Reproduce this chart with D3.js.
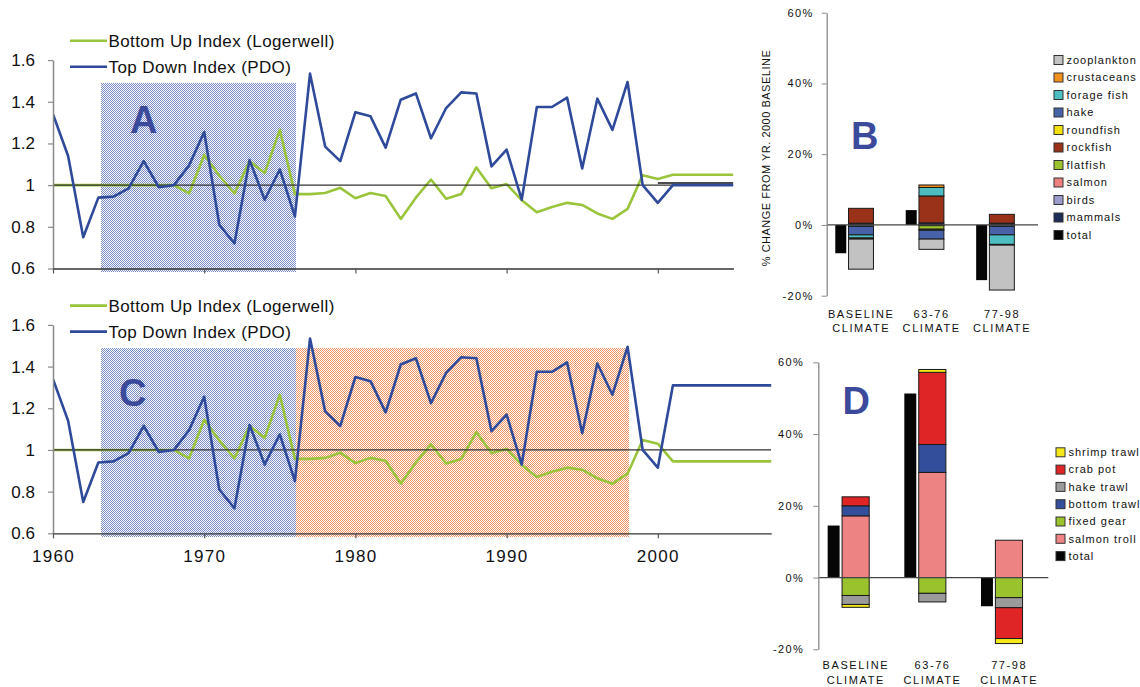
<!DOCTYPE html>
<html>
<head>
<meta charset="utf-8">
<script src="https://cdn.jsdelivr.net/npm/d3@7"></script>
<style>
  body { margin: 0; background: #fff; }
  svg { display: block; font-family: "Liberation Sans", Arial, Helvetica, sans-serif; }
</style>
</head>
<body>
<svg id="chart" width="1140" height="687"></svg>
<script>
// ---------------- Index series, 1960-2000 ----------------
const years = [1960,1961,1962,1963,1964,1965,1966,1967,1968,1969,
               1970,1971,1972,1973,1974,1975,1976,1977,1978,1979,
               1980,1981,1982,1983,1984,1985,1986,1987,1988,1989,
               1990,1991,1992,1993,1994,1995,1996,1997,1998,1999,2000];

const topDownPDO = [1.34,1.14,0.75,0.94,0.945,0.985,1.115,0.99,1.00,1.095,
                    1.255,0.81,0.72,1.12,0.93,1.075,0.85,1.535,1.185,1.115,
                    1.35,1.33,1.18,1.41,1.44,1.225,1.37,1.445,1.44,1.09,
                    1.17,0.93,1.375,1.375,1.42,1.08,1.415,1.265,1.495,1.00,0.915];

const bottomUpLogerwell = [1.00,1.00,1.00,1.00,1.00,1.00,1.00,1.00,1.00,0.96,
                           1.145,1.045,0.96,1.115,1.058,1.265,0.957,0.957,0.962,0.987,
                           0.937,0.962,0.948,0.838,0.94,1.027,0.935,0.957,1.085,0.985,
                           1.005,0.928,0.87,0.895,0.915,0.905,0.864,0.838,0.886,1.048,1.03];

// Projection beyond 2000, scenario A (baseline climate held)
const tailYearsA = [2001,2002,2003,2004,2005];
const topDownTailA = [1.0,1.0,1.0,1.0,1.0];
const bottomUpTailA = [1.05,1.05,1.05,1.05,1.05];
const shiftedBaselineYearsA = [2000,2005];
const shiftedBaselineA = [1.01,1.01];

// Projection beyond 2000, scenario C (1977-98 climate repeated)
const tailYearsC = [2001,2002,2003,2004,2005,2006,2007,2008];
const topDownTailC = [1.31,1.31,1.31,1.31,1.31,1.31,1.31,1.31];
const bottomUpTailC = [0.945,0.945,0.945,0.945,0.945,0.945,0.945,0.945];

// Climate regimes shown as stippled bands
const coldRegime = [1963.2, 1976.1];
const warmRegime = [1976.1, 1998.1];
const regimeTop = 1.49;
const regimeBottom = 0.585;

const indexTicks = [0.6,0.8,1.0,1.2,1.4,1.6];
const indexTickLabels = ["0.6","0.8","1","1.2","1.4","1.6"];
const decadeTicks = [1960,1970,1980,1990,2000];
const legendNames = ["Bottom Up Index (Logerwell)","Top Down Index (PDO)"];

// ---------------- Ecosystem biomass change (panel B) ----------------
const climateCats = ["BASELINE|CLIMATE","63-76|CLIMATE","77-98|CLIMATE"];
const groupKeys = ["mammals","birds","salmon","flatfish","rockfish","roundfish","hake","forage fish","crustaceans","zooplankton"];
const groupColors = ["#1d2d58","#9a9acb","#ef8080","#9bc12c","#9a3219","#f2e10c","#4862a9","#4dbdc1","#f0901d","#c2c2c2"];
const mammals     = [0.5, 0.6, 0.5];
const birds       = [-0.4, 0.0, -0.4];
const salmon      = [0.0, -0.2, 0.0];
const flatfish    = [0.0, -1.0, 0.0];
const rockfish    = [4.2, 7.6, 2.5];
const roundfish   = [0.0, -0.3, 0.0];
const hake        = [-2.4, -2.5, -2.4];
const forageFish  = [-0.9, 2.4, -2.7];
const crustaceans = [-0.3, 0.7, -0.2];
const zooplankton = [-8.5, -2.9, -12.7];
const groupTotal  = [-8.0, 4.2, -15.6];

// ---------------- Fishery revenue change (panel D) ----------------
const fleetKeys = ["salmon troll","fixed gear","bottom trawl","hake trawl","crab pot","shrimp trawl"];
const fleetColors = ["#ee8384","#9ac22d","#334f9b","#9a9a9a","#e02526","#f4e81a"];
const salmonTroll = [17.2, 29.3, 10.4];
const fixedGear   = [-5.0, -4.4, -5.6];
const bottomTrawl = [2.8, 7.8, 0.0];
const hakeTrawl   = [-2.5, -2.4, -2.8];
const crabPot     = [2.5, 20.1, -8.6];
const shrimpTrawl = [-0.8, 0.8, -1.4];
const fleetTotal  = [14.5, 51.3, -8.0];

const pctTicks = [-20,0,20,40,60];

// ---------------- drawing ----------------
const svg = d3.select("#chart");
const defs = svg.append("defs");
const BLUE = "#2f4a9a", GREEN = "#9ac43c", LETTER = "#3b4a9b";

// fine checkered dot texture used for the regime bands
const stippleDots = [[0,0],[2,0],[1,1],[3,1],[0,2],[2,2],[1,3],[3,3]];
function stipple(id, color) {
  const p = defs.append("pattern").attr("id", id)
    .attr("width", 4).attr("height", 4).attr("patternUnits", "userSpaceOnUse");
  p.append("rect").attr("width", 4).attr("height", 4).attr("fill", "#fff");
  stippleDots.forEach(([dx, dy]) => p.append("rect")
    .attr("x", dx).attr("y", dy).attr("width", 1).attr("height", 1).attr("fill", color));
}
stipple("dotsBlue", "#7a8cc9");
stipple("dotsOrange", "#f29564");

const YEAR_PX = 15.12;

function drawIndexPanel(o) {
  const g = svg.append("g");
  const x = d3.scaleLinear().domain([1960, o.xEnd]).range([53, 53 + (o.xEnd - 1960) * YEAR_PX]);
  const y = d3.scaleLinear().domain([0.6, 1.6]).range([o.yBottom, o.yBottom - 208.4]);

  defs.append("clipPath").attr("id", "clip" + o.letter).append("rect")
    .attr("x", x.range()[0]).attr("y", y(1.7))
    .attr("width", x.range()[1] - x.range()[0]).attr("height", y(0.5) - y(1.7));

  o.regimes.forEach(r => g.append("rect")
    .attr("x", Math.round(x(r.span[0]))).attr("width", Math.round(x(r.span[1]) - x(r.span[0])))
    .attr("y", Math.round(y(regimeTop))).attr("height", Math.round(y(regimeBottom) - y(regimeTop)))
    .attr("fill", `url(#${r.fill})`).attr("shape-rendering", "crispEdges"));

  const line = d3.line().x(d => x(d[0])).y(d => y(d[1]));
  const plot = g.append("g").attr("clip-path", `url(#clip${o.letter})`);

  const green = years.map((yr, i) => [yr, bottomUpLogerwell[i]])
    .concat(o.tailYears.map((yr, i) => [yr, o.bottomTail[i]]));
  const blue = years.map((yr, i) => [yr, topDownPDO[i]])
    .concat(o.tailYears.map((yr, i) => [yr, o.topTail[i]]));

  plot.append("path").attr("d", line(green)).attr("fill", "none")
    .attr("stroke", GREEN).attr("stroke-width", 2.6).attr("stroke-linejoin", "round");
  plot.append("line").attr("x1", x(1960)).attr("x2", x(o.xEnd))
    .attr("y1", y(1)).attr("y2", y(1)).attr("stroke", "#333").attr("stroke-width", 1.3);
  if (o.extraBase) {
    plot.append("path").attr("d", line(o.extraBase)).attr("fill", "none")
      .attr("stroke", "#111").attr("stroke-width", 1.5);
  }
  plot.append("path").attr("d", line(blue)).attr("fill", "none")
    .attr("stroke", BLUE).attr("stroke-width", 2.6).attr("stroke-linejoin", "round");

  // axes
  const yAxis = g.append("g").attr("transform", `translate(${x(1960)},0)`)
    .call(d3.axisLeft(y).tickValues(indexTicks)
      .tickFormat((d, i) => indexTickLabels[i]).tickSize(5).tickSizeOuter(0).tickPadding(13));
  yAxis.select(".domain").attr("stroke", "#8a8a8a").attr("stroke-width", 1.5);
  yAxis.selectAll(".tick line").attr("stroke", "#8a8a8a").attr("stroke-width", 1.2);
  yAxis.selectAll("text").attr("font-size", 17).attr("fill", "#111")
    .attr("font-family", "Liberation Sans, Arial, sans-serif");

  const xAxis = g.append("g").attr("transform", `translate(0,${y(0.6)})`)
    .call(d3.axisBottom(x).tickValues(decadeTicks)
      .tickFormat(o.showYears ? d3.format("d") : () => "")
      .tickSize(5).tickSizeOuter(0).tickPadding(12));
  xAxis.select(".domain").attr("stroke", "#333").attr("stroke-width", 1.3);
  xAxis.selectAll(".tick line").attr("stroke", "#555").attr("stroke-width", 1.2);
  xAxis.selectAll("text").attr("font-size", 17).attr("fill", "#111")
    .attr("letter-spacing", 1.3).attr("font-family", "Liberation Sans, Arial, sans-serif");

  // legend
  const ly = y(1.6) - 19.3;
  [GREEN, BLUE].forEach((c, i) => {
    g.append("line").attr("x1", 70).attr("x2", 107)
      .attr("y1", ly + i * 26).attr("y2", ly + i * 26)
      .attr("stroke", c).attr("stroke-width", 2.6);
    g.append("text").attr("x", 108.5).attr("y", ly + i * 26).attr("dy", "0.35em")
      .attr("font-size", 17).attr("letter-spacing", 0.4).attr("fill", "#111")
      .text(legendNames[i]);
  });

  g.append("text").attr("x", o.letterPos[0]).attr("y", o.letterPos[1])
    .attr("font-size", 38).attr("font-weight", "bold").attr("fill", LETTER)
    .text(o.letter);
}

drawIndexPanel({
  letter: "A", letterPos: [130, 133], yBottom: 268.5, xEnd: 2005, showYears: false,
  tailYears: tailYearsA, topTail: topDownTailA, bottomTail: bottomUpTailA,
  extraBase: shiftedBaselineYearsA.map((yr, i) => [yr, shiftedBaselineA[i]]),
  regimes: [{ span: coldRegime, fill: "dotsBlue" }]
});
drawIndexPanel({
  letter: "C", letterPos: [119, 406], yBottom: 533.3, xEnd: 2007.5, showYears: true,
  tailYears: tailYearsC, topTail: topDownTailC, bottomTail: bottomUpTailC,
  extraBase: null,
  regimes: [{ span: coldRegime, fill: "dotsBlue" }, { span: warmRegime, fill: "dotsOrange" }]
});

function drawChangePanel(o) {
  const g = svg.append("g");
  const x = d3.scaleBand().domain(climateCats).range(o.xRange);
  const y = d3.scaleLinear().domain([-20, 60]).range(o.yRange);
  const bw = x.bandwidth();

  const rows = climateCats.map((c, i) => {
    const r = { cat: c };
    o.keys.forEach((k, j) => r[k] = o.values[j][i]);
    return r;
  });
  const layers = d3.stack().keys(o.keys).offset(d3.stackOffsetDiverging)(rows);

  // totals
  g.selectAll(".total").data(o.totals).join("rect")
    .attr("x", (d, i) => x(climateCats[i]) + bw * 0.122)
    .attr("width", bw * 0.156)
    .attr("y", d => y(Math.max(0, d)))
    .attr("height", d => Math.abs(y(d) - y(0)))
    .attr("fill", "#050505");

  layers.forEach((layer, li) => {
    layer.forEach((d, i) => {
      if (d[1] === d[0]) return;
      g.append("rect")
        .attr("x", x(climateCats[i]) + bw * 0.31)
        .attr("width", bw * 0.354)
        .attr("y", y(Math.max(d[0], d[1])))
        .attr("height", Math.abs(y(d[1]) - y(d[0])))
        .attr("fill", o.colors[li]).attr("stroke", "#1a1a1a").attr("stroke-width", 1);
    });
  });

  g.append("line").attr("x1", o.xRange[0]).attr("x2", o.xRange[1])
    .attr("y1", y(0)).attr("y2", y(0)).attr("stroke", "#444").attr("stroke-width", 1.2);

  const ax = g.append("g").attr("transform", `translate(${o.xRange[0]},0)`)
    .call(d3.axisLeft(y).tickValues(pctTicks).tickFormat(d => d + "%")
      .tickSize(5).tickSizeOuter(0).tickPadding(o.tickPad));
  ax.select(".domain").attr("stroke", "#8a8a8a").attr("stroke-width", 1.3);
  ax.selectAll(".tick line").attr("stroke", "#8a8a8a");
  ax.selectAll("text").attr("font-size", 11).attr("letter-spacing", 1.4).attr("fill", "#111")
    .attr("font-family", "Liberation Sans, Arial, sans-serif");

  // category labels
  climateCats.forEach(c => {
    const t = g.append("text").attr("text-anchor", "middle").attr("font-size", 11)
      .attr("letter-spacing", 1.6).attr("fill", "#111");
    c.split("|").forEach((part, k) => t.append("tspan")
      .attr("x", x(c) + bw * 0.49).attr("y", o.catY + k * 14.5).text(part));
  });

  // legend
  const names = o.keys.slice().reverse().concat(["total"]);
  const cols = o.colors.slice().reverse().concat(["#050505"]);
  names.forEach((n, i) => {
    const cy = o.legendY + i * o.legendStep;
    g.append("rect").attr("x", o.legendX).attr("y", cy - 4.5).attr("width", 9).attr("height", 9)
      .attr("fill", cols[i]).attr("stroke", "#333").attr("stroke-width", 1);
    g.append("text").attr("x", o.legendX + 12.5).attr("y", cy).attr("dy", "0.35em")
      .attr("font-size", 11).attr("letter-spacing", 1.0).attr("fill", "#111").text(n);
  });

  g.append("text").attr("x", o.letterPos[0]).attr("y", o.letterPos[1])
    .attr("font-size", 38).attr("font-weight", "bold").attr("fill", LETTER).text(o.letter);

  if (o.yLabel) {
    g.append("text").attr("transform", `translate(${o.yLabel.x},${o.yLabel.y}) rotate(-90)`)
      .attr("text-anchor", "middle").attr("font-size", 11).attr("letter-spacing", 0.5)
      .attr("fill", "#111").text(o.yLabel.text);
  }
}

drawChangePanel({
  letter: "B", letterPos: [851, 148.5],
  xRange: [826.7, 1038], yRange: [295.7, 12.7], tickPad: 8,
  keys: groupKeys, colors: groupColors,
  values: [mammals, birds, salmon, flatfish, rockfish, roundfish, hake, forageFish, crustaceans, zooplankton],
  totals: groupTotal, catY: 317.5,
  legendX: 1054, legendY: 60, legendStep: 17.5,
  yLabel: { x: 770, y: 158, text: "% CHANGE FROM YR. 2000 BASELINE" }
});
drawChangePanel({
  letter: "D", letterPos: [842.5, 413.5],
  xRange: [818.3, 1048.3], yRange: [649.3, 362.3], tickPad: 9,
  keys: fleetKeys, colors: fleetColors,
  values: [salmonTroll, fixedGear, bottomTrawl, hakeTrawl, crabPot, shrimpTrawl],
  totals: fleetTotal, catY: 669,
  legendX: 1056, legendY: 452.3, legendStep: 17.3,
  yLabel: null
});
</script>
</body>
</html>
